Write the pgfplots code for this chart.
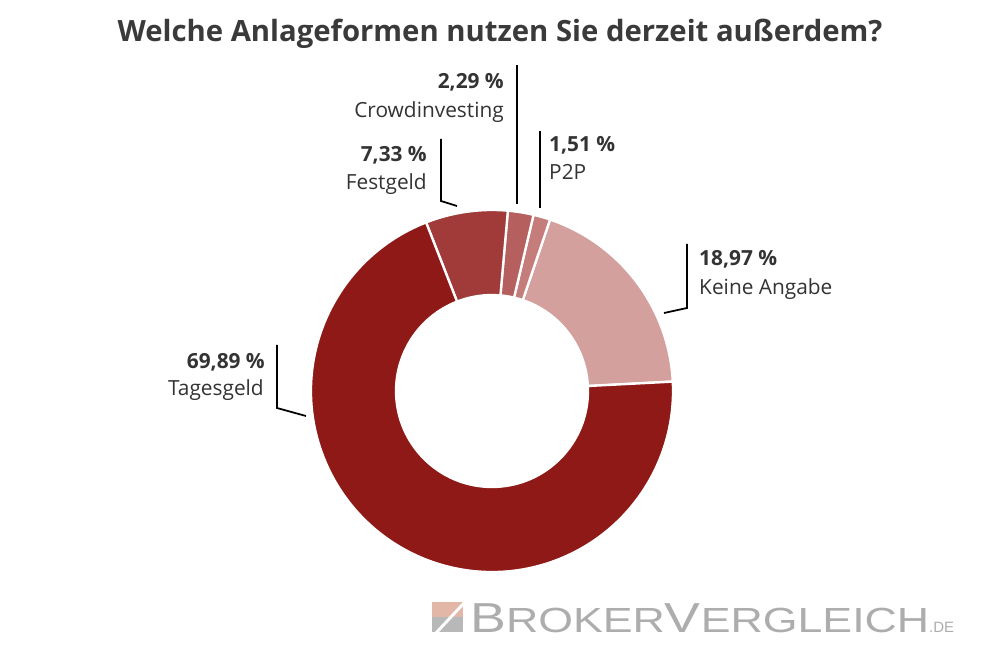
\documentclass[border=0pt]{standalone}
\usepackage{fontspec}
\setmainfont{Open Sans}
\newfontfamily\logofont{Liberation Sans}
\usepackage{graphicx}
\usepackage{pgfplots}
\usepackage{pgfplotstable}
\pgfplotsset{compat=1.18}
\definecolor{ckeine}{HTML}{D3A09E}
\definecolor{cp2p}{HTML}{C47D7B}
\definecolor{ccrowd}{HTML}{B55F5E}
\definecolor{cfest}{HTML}{A03B3A}
\definecolor{ctages}{HTML}{8E1916}
\definecolor{txt}{HTML}{333333}
\definecolor{titlec}{HTML}{3A3A3A}
\definecolor{logog}{HTML}{ADADAD}
\definecolor{logop}{HTML}{E3B7A8}
\definecolor{logoq}{HTML}{B8B8B8}

\pgfplotstableread{
label value color
Keine 18.97 ckeine
P2P 1.51 cp2p
Crowdinvesting 2.29 ccrowd
Festgeld 7.33 cfest
Tagesgeld 69.89 ctages
}\data

\newcommand\lab{\fontsize{17.8}{21}\selectfont}
\newcommand\labb{\fontsize{17.8}{21}\selectfont\bfseries}

\begin{document}
\begin{tikzpicture}
\begin{axis}[scale only axis, width=30cm, height=19.86cm,
  xmin=0, xmax=1000, ymin=0, ymax=662, hide axis, clip=false]
\fill[white] (axis cs:0,0) rectangle (axis cs:1000,662);
\pgfplotstablegetrowsof{\data}
\pgfmathtruncatemacro\N{\pgfplotsretval-1}
\gdef\acc{3}
\foreach \i in {0,...,\N}{
  \pgfplotstablegetelem{\i}{value}\of\data
  \pgfmathsetmacro\va{\acc}
  \pgfmathsetmacro\vb{\acc+3.6*\pgfplotsretval}
  \pgfplotstablegetelem{\i}{color}\of\data
  \let\col\pgfplotsretval
  \pgfmathsetmacro\xa{492+181*cos(\va)}
  \pgfmathsetmacro\ya{271+181*sin(\va)}
  \pgfmathsetmacro\xb{492+96*cos(\vb)}
  \pgfmathsetmacro\yb{271+96*sin(\vb)}
  \edef\temp{\noexpand\filldraw[fill=\col, draw=white, line width=2pt, line join=round] (axis cs:\xa,\ya) arc[start angle=\va, end angle=\vb, radius=5.43cm] -- (axis cs:\xb,\yb) arc[start angle=\vb, end angle=\va, radius=2.88cm] -- cycle;}
  \temp
  \xdef\acc{\vb}
}
% title
\node[anchor=base, inner sep=0, text=titlec, font=\fontsize{25}{29}\selectfont\bfseries] at (axis cs:500,620) {Welche Anlageformen nutzen Sie derzeit außerdem?};
% labels
\node[anchor=base east, inner sep=0, text=txt, font=\labb] at (axis cs:265,293) {69,89 \%};
\node[anchor=base east, inner sep=0, text=txt, font=\lab] at (axis cs:264,266) {Tagesgeld};
\node[anchor=base west, inner sep=0, text=txt, font=\labb] at (axis cs:699,396) {18,97 \%};
\node[anchor=base west, inner sep=0, text=txt, font=\lab] at (axis cs:699,367) {Keine Angabe};
\node[anchor=base east, inner sep=0, text=txt, font=\labb] at (axis cs:504,573) {2,29 \%};
\node[anchor=base east, inner sep=0, text=txt, font=\lab] at (axis cs:504,544) {Crowdinvesting};
\node[anchor=base west, inner sep=0, text=txt, font=\labb] at (axis cs:549,510) {1,51 \%};
\node[anchor=base west, inner sep=0, text=txt, font=\lab] at (axis cs:549,482) {P2P};
\node[anchor=base east, inner sep=0, text=txt, font=\labb] at (axis cs:427,500) {7,33 \%};
\node[anchor=base east, inner sep=0, text=txt, font=\lab] at (axis cs:427,472) {Festgeld};
% leader lines
\draw[black, line width=1.5pt] (axis cs:277,317) -- (axis cs:277,254) -- (axis cs:306,246);
\draw[black, line width=1.5pt] (axis cs:441,523) -- (axis cs:441,461) -- (axis cs:457,456);
\draw[black, line width=1.5pt] (axis cs:517,597) -- (axis cs:517,458);
\draw[black, line width=1.5pt] (axis cs:540,531) -- (axis cs:540,454);
\draw[black, line width=1.5pt] (axis cs:687,418) -- (axis cs:687,354) -- (axis cs:664,349);
% logo
\fill[logop] (axis cs:432,45) rectangle (axis cs:463,60);
\fill[logoq] (axis cs:432,30) rectangle (axis cs:463,45);
\draw[white, line width=2.5pt] (axis cs:436,29) -- (axis cs:464,59);
\node[anchor=base west, inner sep=0, text=logog] at (axis cs:470,30) {\logofont\scalebox{1.28}[1]{\fontsize{35.8}{40}\selectfont B\fontsize{29.8}{34}\selectfont ROKER\fontsize{35.8}{40}\selectfont V\fontsize{29.8}{34}\selectfont ERGLEICH}\fontsize{12.8}{15}\selectfont.DE};
\end{axis}
\end{tikzpicture}
\end{document}
